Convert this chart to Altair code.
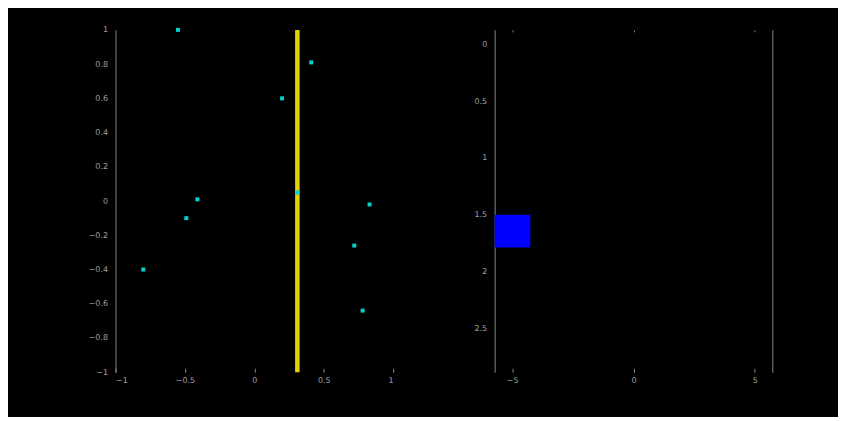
import altair as alt
import pandas as pd

# scatter points (left panel)
pts_x = [-0.55, 0.41, 0.20, 0.31, -0.41, -0.49, -0.80, 0.83, 0.72, 0.78]
pts_y = [1.00, 0.81, 0.60, 0.05, 0.01, -0.10, -0.40, -0.02, -0.26, -0.64]
# vertical line position (left panel)
vline_x = [0.31]
# rectangle (right panel)
rect_x = [-5.72]
rect_x2 = [-4.25]
rect_y = [1.50]
rect_y2 = [1.79]

left_xticks = [-1, -0.5, 0, 0.5, 1]
left_yticks = [1, 0.8, 0.6, 0.4, 0.2, 0, -0.2, -0.4, -0.6, -0.8, -1]
right_xticks = [-5, 0, 5]
right_yticks = [0, 0.5, 1, 1.5, 2, 2.5]

GRAY_LINE = "#858585"
GRAY_TEXT = "#a0a0a0"
W, H = 279, 344

pts = pd.DataFrame({"x": pts_x, "y": pts_y})
vl = pd.DataFrame({"x": vline_x})
rc = pd.DataFrame({"x": rect_x, "x2": rect_x2, "y": rect_y, "y2": rect_y2})

lx = alt.Scale(domain=[-1, 1], nice=False, zero=False)
ly = alt.Scale(domain=[-1, 1], nice=False, zero=False)

x_axis_left = alt.Axis(values=left_xticks, format="~g", title=None, domain=False,
                       ticks=True, tickSize=4, offset=-4, tickColor=GRAY_LINE,
                       labelPadding=4, grid=False)
y_axis_left = alt.Axis(values=left_yticks, format="~g", title=None, domain=True,
                       domainColor=GRAY_LINE, ticks=False, labelPadding=8, grid=False)

points = alt.Chart(pts).mark_square(size=16, color="#00d2d2", opacity=1).encode(
    x=alt.X("x:Q", scale=lx, axis=x_axis_left),
    y=alt.Y("y:Q", scale=ly, axis=y_axis_left),
)
vline = alt.Chart(vl).mark_rule(color="#e3d300", strokeWidth=4.5).encode(
    x=alt.X("x:Q", scale=lx, axis=x_axis_left),
)
left = alt.layer(vline, points).properties(width=W, height=H)

rx = alt.Scale(domain=[-5.72, 5.72], nice=False, zero=False)
ry = alt.Scale(domain=[-0.13, 2.89], nice=False, zero=False, reverse=True)

rect = alt.Chart(rc).mark_rect(color="#0000ff").encode(
    x=alt.X("x:Q", scale=rx, axis=alt.Axis(orient="bottom", values=right_xticks, format="~g",
            title=None, domain=False, ticks=True, tickSize=4, offset=-4,
            tickColor=GRAY_LINE, labelPadding=4, grid=False)),
    x2="x2:Q",
    y=alt.Y("y:Q", scale=ry, axis=alt.Axis(orient="left", values=right_yticks, format="~g",
            title=None, domain=True, domainColor=GRAY_LINE, ticks=False,
            labelPadding=8, grid=False)),
    y2="y2:Q",
)
frame = alt.Chart(rc).mark_rect(opacity=0).encode(
    x=alt.X("x:Q", scale=rx, axis=alt.Axis(orient="top", values=right_xticks, labels=False,
            title=None, domain=False, ticks=True, tickSize=2, offset=-2,
            tickColor=GRAY_LINE, grid=False)),
    x2="x2:Q",
    y=alt.Y("y:Q", scale=ry, axis=alt.Axis(orient="right", labels=False, title=None,
            domain=True, domainColor=GRAY_LINE, ticks=False, grid=False)),
    y2="y2:Q",
)
right = alt.layer(rect, frame).resolve_axis(x="independent", y="independent").properties(
    width=279, height=H)

chart = alt.hconcat(left, right, spacing=80).properties(
    background="black",
    padding={"left": 80, "top": 17, "right": 66, "bottom": 32},
).configure_view(stroke=None).configure_axis(
    labelColor=GRAY_TEXT, labelFont="DejaVu Sans", labelFontSize=8,
)

chart.save("out.html", embed_options={"renderer": "svg", "actions": False})
